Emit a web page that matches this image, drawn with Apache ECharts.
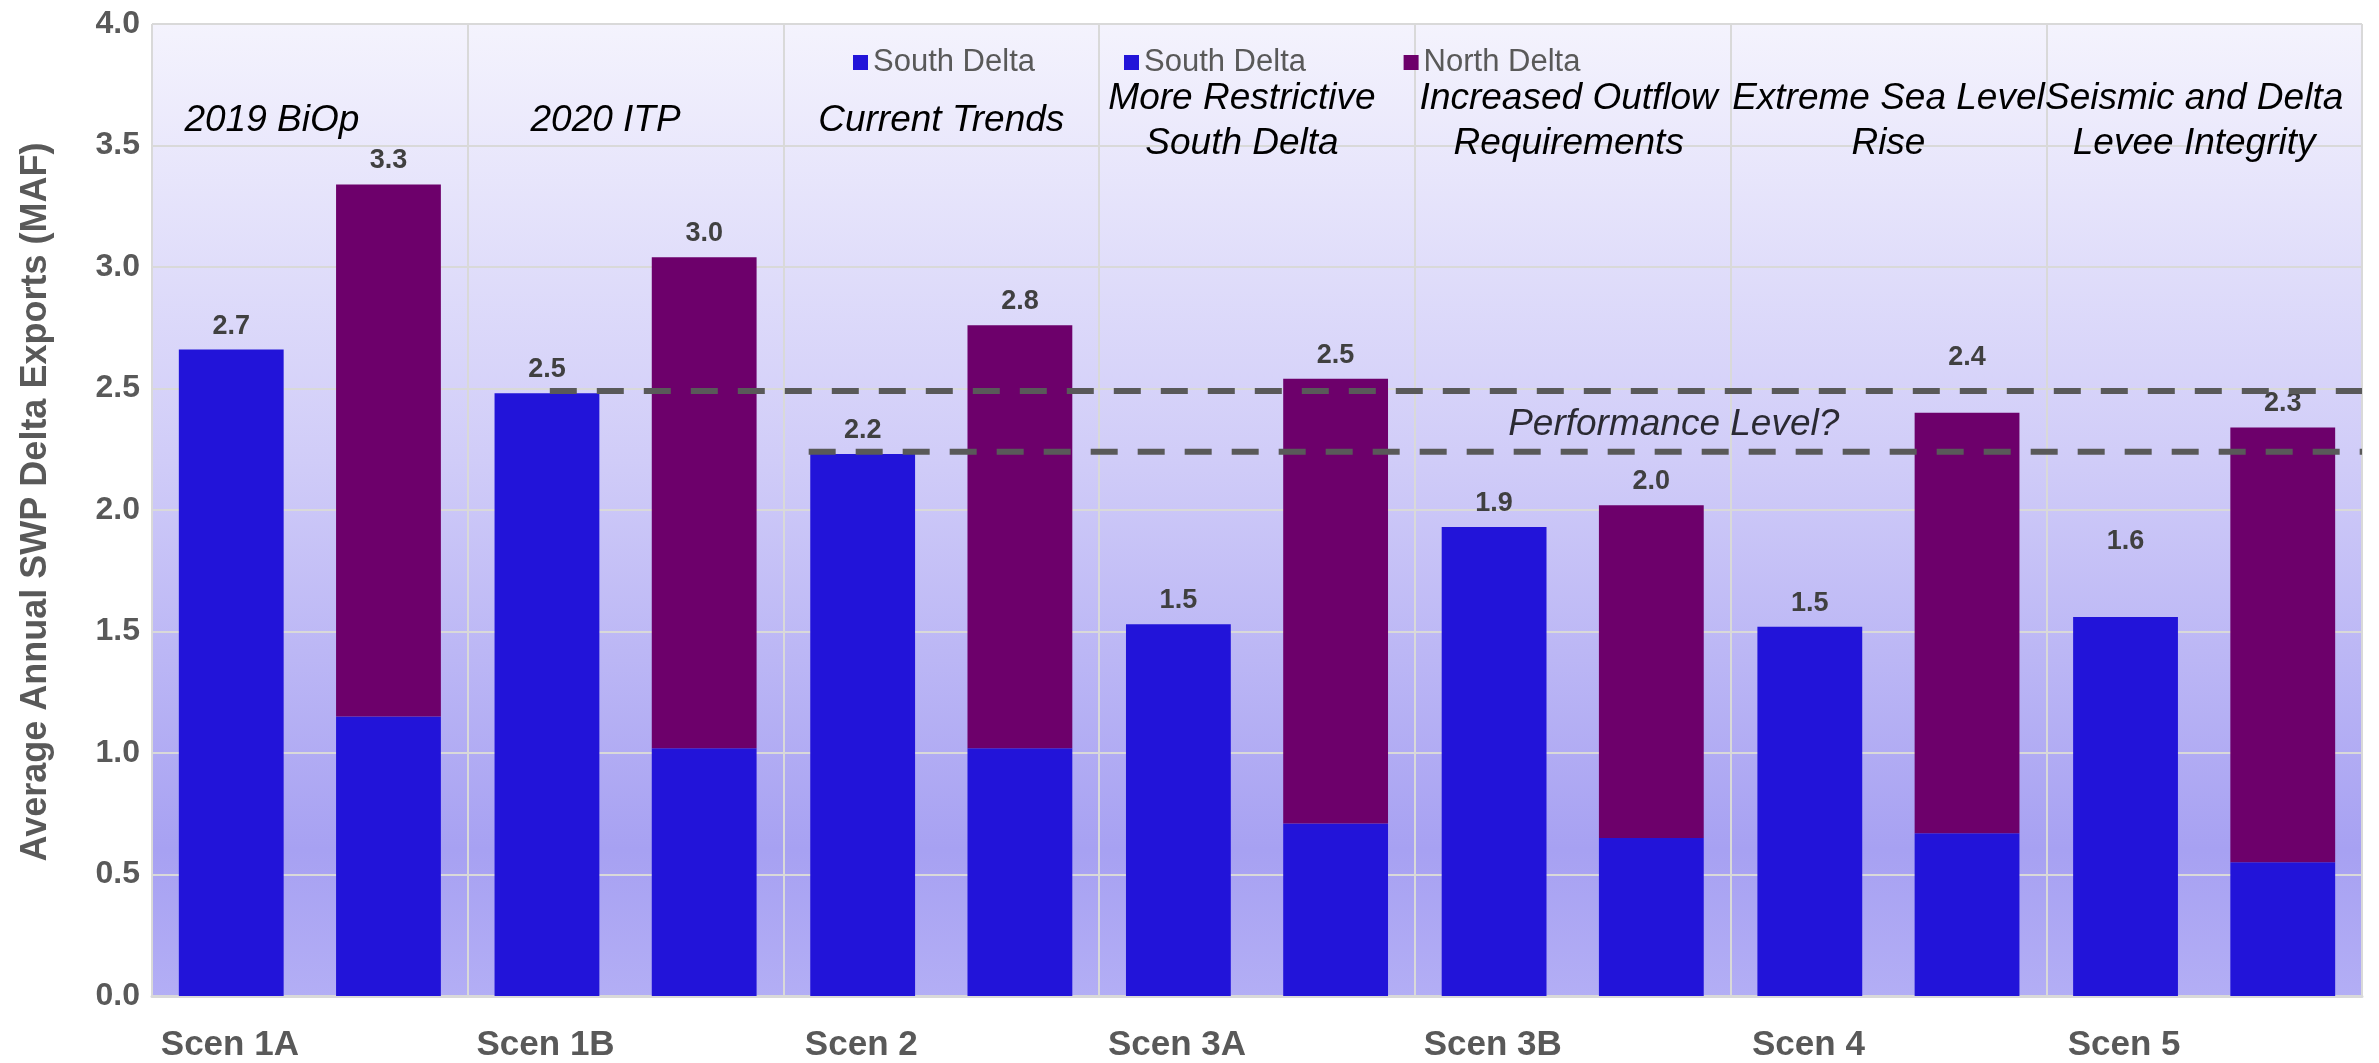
<!DOCTYPE html>
<html><head><meta charset="utf-8">
<script src="https://cdn.jsdelivr.net/npm/echarts@6/dist/echarts.min.js"></script>
<style>html,body{margin:0;padding:0;background:#fff}#c{width:2379px;height:1063px}</style>
</head><body><div id="c"></div>
<script>
// ---- data ----
const scenarios = ['Scen 1A', 'Scen 1B', 'Scen 2', 'Scen 3A', 'Scen 3B', 'Scen 4', 'Scen 5'];
const scenarioTitles = ['2019 BiOp', '2020 ITP', 'Current Trends', 'More Restrictive\nSouth Delta',
  'Increased Outflow\nRequirements', 'Extreme Sea Level\nRise', 'Seismic and Delta\nLevee Integrity'];
const southOnly = [2.66, 2.48, 2.23, 1.53, 1.93, 1.52, 1.56];
const southWithNorth = [1.15, 1.02, 1.02, 0.71, 0.65, 0.67, 0.55];
const northWithSouth = [2.19, 2.02, 1.74, 1.83, 1.37, 1.73, 1.79];
const performanceLevels = [2.49, 2.24];
const performanceStarts = [1.26, 2.08];      // in category units along the x axis
const performanceText = 'Performance Level?';
const performanceTextAt = [4.82, 2.35];
const yAxisTitle = 'Average Annual SWP Delta Exports (MAF)';

// ---- layout tweaks (kept apart from the data) ----
const titleShiftLeft = [38, 20, 0, 15, 4, 0, 10];   // px, per scenario title

const totals = southWithNorth.map((v, i) => v + northWithSouth[i]);
const FONT = "'Liberation Sans', Arial, sans-serif";
const BLUE = '#2214d9', PURPLE = '#6d006b', GRID = '#d9d9d9', GRAY = '#595959';

const labelBase = { show: true, position: 'top', distance: 10, fontFamily: FONT, fontSize: 27,
  fontWeight: 'bold', color: '#404040' };

const southOnlyData = southOnly.map((v, i) => {
  const it = { value: v };
  if (i === 6) it.label = { offset: [0, -52] };
  return it;
});
const northData = northWithSouth.map((v, i) => {
  const it = { value: v };
  if (i === 5) it.label = { offset: [0, -32] };
  return it;
});

const titleStyle = { fontFamily: FONT, fontSize: 37, fontStyle: 'italic', color: '#000',
  lineHeight: 45, verticalAlign: 'middle', align: 'center' };
const titleData = scenarioTitles.map((t, i) => ({
  value: t,
  textStyle: Object.assign({}, titleStyle, { padding: [0, titleShiftLeft[i] * 2, 0, 0] })
}));

const dashedSeries = performanceLevels.map((lvl, i) => ({
  type: 'line', xAxisIndex: 2, yAxisIndex: 0, silent: true, symbol: 'none', z: 10,
  data: [[performanceStarts[i], lvl], [scenarios.length, lvl]],
  lineStyle: { color: GRAY, width: 6, type: [27, 20] }
}));

const chart = echarts.init(document.getElementById('c'), null, { renderer: 'canvas' });
chart.setOption({
  animation: false,
  backgroundColor: '#ffffff',
  textStyle: { fontFamily: FONT },
  grid: {
    left: 152, right: 17, top: 24, bottom: 66, show: true, borderWidth: 0,
    backgroundColor: new echarts.graphic.LinearGradient(0, 0, 0, 1, [
      { offset: 0, color: '#f4f3fd' },
      { offset: 0.45, color: '#d0ccf8' },
      { offset: 0.85, color: '#a7a1f2' },
      { offset: 1, color: '#b3aef5' }
    ])
  },
  legend: {
    data: [{ name: 'South Delta' }, { name: 'South Delta ' }, { name: 'North Delta' }],
    left: 848, top: 42, itemWidth: 15, itemHeight: 15, itemGap: 89, icon: 'rect',
    textStyle: { fontFamily: FONT, fontSize: 31, color: GRAY },
    selectedMode: false
  },
  xAxis: [
    {
      type: 'category', data: scenarios, position: 'bottom',
      axisLine: { show: true, lineStyle: { color: GRID, width: 3 } },
      axisTick: { show: false },
      splitLine: { show: true, lineStyle: { color: GRID, width: 2 } },
      axisLabel: { interval: 0, margin: 32, fontFamily: FONT, fontSize: 35, fontWeight: 'bold',
        color: GRAY, padding: [0, 160, 0, 0] }
    },
    {
      type: 'category', data: titleData, position: 'top',
      axisLine: { show: false }, axisTick: { show: false }, splitLine: { show: false },
      axisLabel: Object.assign({ interval: 0, inside: true, margin: 97 }, titleStyle)
    },
    { type: 'value', min: 0, max: scenarios.length, show: false }
  ],
  yAxis: {
    type: 'value', min: 0, max: 4, interval: 0.5,
    name: yAxisTitle, nameLocation: 'middle', nameGap: 98,
    nameTextStyle: { fontFamily: FONT, fontSize: 36, fontWeight: 'bold', color: GRAY,
      padding: [0, 0, 0, 16] },
    axisLine: { show: false }, axisTick: { show: false },
    splitLine: { lineStyle: { color: GRID, width: 2 } },
    axisLabel: { margin: 12, fontFamily: FONT, fontSize: 32, fontWeight: 'bold', color: GRAY,
      formatter: v => v.toFixed(1) }
  },
  series: [
    {
      name: 'South Delta', type: 'bar', barWidth: '33.2%', barGap: '50%',
      itemStyle: { color: BLUE }, data: southOnlyData,
      label: Object.assign({}, labelBase, { formatter: p => p.value.toFixed(1) })
    },
    {
      name: 'South Delta ', type: 'bar', stack: 'withNorth', barWidth: '33.2%', barGap: '50%',
      itemStyle: { color: BLUE }, data: southWithNorth
    },
    {
      name: 'North Delta', type: 'bar', stack: 'withNorth', barWidth: '33.2%', barGap: '50%',
      itemStyle: { color: PURPLE }, data: northData,
      label: Object.assign({}, labelBase, { formatter: p => totals[p.dataIndex].toFixed(1) })
    },
    ...dashedSeries,
    {
      type: 'scatter', xAxisIndex: 2, yAxisIndex: 0, silent: true, symbolSize: 0, z: 11,
      data: [performanceTextAt],
      label: { show: true, position: 'inside', formatter: performanceText,
        fontFamily: FONT, fontSize: 37, fontStyle: 'italic', color: '#000' }
    }
  ]
});
</script>
</body></html>
